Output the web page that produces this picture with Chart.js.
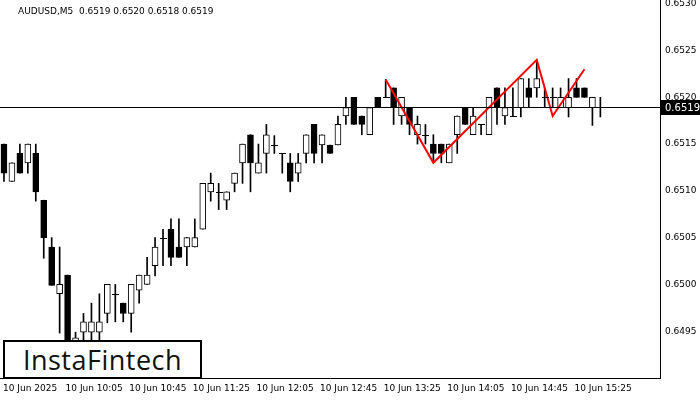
<!DOCTYPE html>
<html><head><meta charset="utf-8">
<script src="https://cdn.jsdelivr.net/npm/chart.js@4"></script>
<style>body{margin:0;background:#fff}#w{position:relative;width:700px;height:400px}
#logo{position:absolute;left:3px;top:340px;width:195px;height:35px;border:2px solid #000;background:#fff;font:500 27px 'Open Sans',sans-serif;letter-spacing:0.5px;line-height:35px;text-align:center;color:#111}</style>
</head><body><div id="w"><canvas id="c" width="700" height="400"></canvas><div id="logo">InstaFintech</div></div>
<script>
const opens=[0.65150,0.65110,0.65140,0.65130,0.65140,0.65090,0.65040,0.64990,0.65010,0.64940,0.64949,0.64949,0.64949,0.64969,0.64990,0.64980,0.64969,0.64994,0.65000,0.65020,0.65050,0.65059,0.65040,0.65040,0.65040,0.65059,0.65099,0.65099,0.65090,0.65108,0.65130,0.65160,0.65119,0.65140,0.65149,0.65140,0.65130,0.65119,0.65140,0.65171,0.65149,0.65149,0.65149,0.65180,0.65200,0.65180,0.65160,0.65200,0.65200,0.65210,0.65180,0.65189,0.65160,0.65160,0.65150,0.65150,0.65130,0.65160,0.65189,0.65160,0.65171,0.65160,0.65210,0.65180,0.65180,0.65189,0.65210,0.65210,0.65200,0.65200,0.65189,0.65189,0.65210,0.65210,0.65189,0.65190];
const highs=[0.65150,0.65130,0.65150,0.65150,0.65150,0.65090,0.65050,0.65040,0.65010,0.64949,0.64969,0.64980,0.64990,0.65000,0.65000,0.64980,0.65000,0.65010,0.65029,0.65050,0.65059,0.65070,0.65070,0.65050,0.65070,0.65108,0.65119,0.65108,0.65099,0.65119,0.65150,0.65160,0.65150,0.65171,0.65159,0.65140,0.65140,0.65140,0.65160,0.65171,0.65160,0.65149,0.65180,0.65200,0.65200,0.65180,0.65189,0.65200,0.65219,0.65210,0.65200,0.65189,0.65180,0.65171,0.65160,0.65150,0.65150,0.65180,0.65189,0.65189,0.65171,0.65200,0.65210,0.65210,0.65210,0.65220,0.65220,0.65240,0.65210,0.65210,0.65210,0.65220,0.65220,0.65210,0.65200,0.65200];
const lows=[0.65110,0.65110,0.65119,0.65119,0.65089,0.65028,0.64999,0.64948,0.64919,0.64919,0.64935,0.64940,0.64940,0.64959,0.64960,0.64960,0.64949,0.64980,0.65000,0.65009,0.65020,0.65020,0.65029,0.65020,0.65040,0.65059,0.65089,0.65080,0.65080,0.65099,0.65108,0.65099,0.65119,0.65119,0.65140,0.65119,0.65099,0.65110,0.65130,0.65130,0.65130,0.65140,0.65149,0.65171,0.65171,0.65160,0.65160,0.65189,0.65200,0.65171,0.65171,0.65160,0.65150,0.65150,0.65130,0.65130,0.65130,0.65140,0.65171,0.65160,0.65160,0.65160,0.65171,0.65171,0.65180,0.65179,0.65189,0.65200,0.65189,0.65189,0.65189,0.65179,0.65200,0.65200,0.65170,0.65179];
const closes=[0.65119,0.65130,0.65119,0.65150,0.65099,0.65050,0.64999,0.65000,0.64935,0.64943,0.64960,0.64960,0.64960,0.65000,0.64990,0.64969,0.65000,0.65010,0.65010,0.65040,0.65050,0.65029,0.65029,0.65050,0.65050,0.65108,0.65108,0.65099,0.65099,0.65119,0.65150,0.65130,0.65130,0.65160,0.65149,0.65140,0.65110,0.65130,0.65160,0.65140,0.65160,0.65140,0.65171,0.65189,0.65171,0.65171,0.65189,0.65189,0.65200,0.65189,0.65200,0.65171,0.65171,0.65160,0.65140,0.65140,0.65150,0.65180,0.65171,0.65180,0.65171,0.65200,0.65189,0.65189,0.65180,0.65220,0.65200,0.65220,0.65200,0.65200,0.65200,0.65200,0.65200,0.65200,0.65200,0.65190];
const patternIdx=[48,54,67,69,73];
const patternVal=[0.65219,0.65130,0.65240,0.65180,0.65230];
const yTicks=[0.6495,0.6500,0.6505,0.6510,0.6515,0.6520,0.6525,0.6530];
const xTickLabels=["10 Jun 2025","10 Jun 10:05","10 Jun 10:45","10 Jun 11:25","10 Jun 12:05","10 Jun 12:45","10 Jun 13:25","10 Jun 14:05","10 Jun 14:45","10 Jun 15:25"];
const currentPrice=0.6519;
const title="AUDUSD,M5  0.6519 0.6520 0.6518 0.6519";

const N=opens.length, SLOTS=83;
const labels=[...Array(SLOTS).keys()].map(String);
const pad=a=>a.concat(Array(SLOTS-a.length).fill(null));
const wick=pad(opens.map((o,i)=>[lows[i],highs[i]]));
const body=pad(opens.map((o,i)=>[o,closes[i]]));
const pat=Array(SLOTS).fill(null);patternIdx.forEach((k,j)=>pat[k]=patternVal[j]);
const bodyFill=opens.map((o,i)=>closes[i]>=o?'#fff':'#000');

const extra={id:'extra',
 afterDatasetsDraw(ch){const c=ch.ctx,x=ch.scales.x,y=ch.scales.y,a=ch.chartArea;
  c.save();c.strokeStyle='#000';c.lineWidth=1;
  for(let i=0;i<N;i++){if(opens[i]===closes[i]){const px=Math.round(x.getPixelForValue(i)),py=Math.round(y.getPixelForValue(opens[i]))+0.5;c.beginPath();c.moveTo(px-3,py);c.lineTo(px+4,py);c.stroke();}}
  const py=Math.round(y.getPixelForValue(currentPrice))+0.5;
  c.beginPath();c.moveTo(a.left,py);c.lineTo(a.right,py);c.stroke();
  c.restore();},
 afterDraw(ch){const c=ch.ctx,x=ch.scales.x,y=ch.scales.y,a=ch.chartArea;
  c.save();c.fillStyle='#000';c.font='9px "DejaVu Sans"';c.textBaseline='middle';
  yTicks.forEach(v=>{const py=y.getPixelForValue(v);c.fillText(v.toFixed(4),a.right+5,py);});
  c.textBaseline='top';
  xTickLabels.forEach((t,k)=>{const px=x.getPixelForValue(k*8);c.fillText(t,Math.max(3,px-2),a.bottom+6);});
  const py=Math.round(y.getPixelForValue(currentPrice));
  c.fillStyle='#000';c.fillRect(a.right+1,py-7,40,15);
  c.fillStyle='#fff';c.font='10px "DejaVu Sans"';c.textBaseline='middle';c.fillText(currentPrice.toFixed(4),a.right+5,py+1);
  c.fillStyle='#000';c.font='9px "DejaVu Sans"';c.textBaseline='top';c.fillText(title,18,7);
  c.restore();}};

new Chart(document.getElementById('c'),{
 data:{labels,datasets:[
  {type:'line',data:pat,borderColor:'#f00',borderWidth:2,pointRadius:0,spanGaps:true,order:0},
  {type:'bar',data:body,backgroundColor:pad(bodyFill),borderColor:'#000',borderWidth:1,borderSkipped:false,barThickness:6,grouped:false,order:1},
  {type:'bar',data:wick,backgroundColor:'#000',barThickness:1,grouped:false,order:2}]},
 options:{responsive:false,animation:false,devicePixelRatio:1,
  layout:{padding:0},
  plugins:{legend:{display:false},tooltip:{enabled:false}},
  scales:{
   x:{offset:true,grid:{display:false,drawTicks:false},border:{display:true,color:'#000'},
     afterFit(s){s.height=22;},ticks:{display:false}},
   y:{position:'right',min:0.64900,max:0.65304,grid:{display:false,drawTicks:false},border:{display:true,color:'#000'},
     afterFit(s){s.width=40;},ticks:{display:false}}}},
 plugins:[extra]});
</script></body></html>
